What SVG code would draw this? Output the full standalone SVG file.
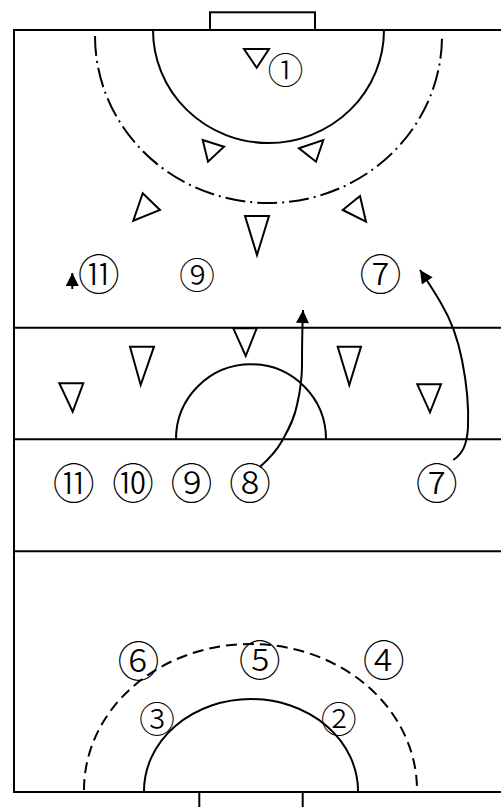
<svg xmlns="http://www.w3.org/2000/svg" width="501" height="807" viewBox="0 0 501 807">
<style>
.ln{fill:none;stroke:#000;stroke-width:2}
.tri{fill:#fff;stroke:#000;stroke-width:2;stroke-linejoin:miter}
.dd{fill:none;stroke:#000;stroke-width:2;stroke-dasharray:20 5 2 5}
.da{fill:none;stroke:#000;stroke-width:2;stroke-dasharray:11 6}
.lb{font-family:"Noto Sans CJK SC","DejaVu Sans",sans-serif;font-size:42px;font-weight:300;text-anchor:middle;dominant-baseline:central;fill:#000}
.sm{font-size:36px}
.arr{fill:none;stroke:#000;stroke-width:2}
</style>
<defs>
<marker id="ah" viewBox="0 0 10 10" refX="10" refY="5" markerWidth="14" markerHeight="13" markerUnits="userSpaceOnUse" orient="auto">
<path d="M0,0 L10,5 L0,10 Z" fill="#000"/>
</marker>
</defs>
<rect width="501" height="807" fill="#fff"/>
<g id="field">
<path class="ln" d="M501,30 H14 V792 H501"/>
<path class="ln" d="M14,327.7 H501 M14,439.3 H501 M14,551.3 H501"/>
<rect class="ln" x="210" y="12.3" width="105" height="17.7"/>
<path class="ln" d="M199.3,792 V807 M302.7,792 V807"/>
<path class="ln" d="M153,30 A115.5,113 0 0 0 384,30"/>
<path class="dd" d="M95,36 A173.5,167 0 0 0 442,36"/>
<path class="ln" d="M176,439.3 A75,75 0 0 1 326,439.3"/>
<path class="ln" d="M144,791 A107,92 0 0 1 358,791"/>
<path class="da" d="M84,790 A166.5,146 0 0 1 417,790"/>
</g>
<g id="defenders">
<polygon class="tri" points="244,49 269,49 256.7,67.7"/>
<polygon class="tri" points="202.7,140 224,146.7 208,161.7"/>
<polygon class="tri" points="299,148.3 323.3,140 316,161.7"/>
<polygon class="tri" points="142.7,193.3 160,210 133.3,220.7"/>
<polygon class="tri" points="360,196 366,221.7 342.7,210"/>
<polygon class="tri" points="245,216 269,216 257,255"/>
<polygon class="tri" points="233.3,328.3 256.7,328.3 245.7,356"/>
<polygon class="tri" points="130,346.7 154,346.7 140.7,385"/>
<polygon class="tri" points="59.3,383.3 83.3,383.3 72.7,411.7"/>
<polygon class="tri" points="337.7,346.7 361,346.7 349.3,385"/>
<polygon class="tri" points="417.3,384.3 441,384.3 430,412.3"/>
</g>
<g id="labels">
<text class="lb sm" x="285.5" y="67.5">①</text>
<text class="lb" x="98.8" y="271.7">⑪</text>
<text class="lb sm" x="197" y="273">⑨</text>
<text class="lb" x="380.5" y="271.7">⑦</text>
<text class="lb" x="73.8" y="480">⑪</text>
<text class="lb" x="133" y="480">⑩</text>
<text class="lb" x="191.5" y="480">⑨</text>
<text class="lb" x="250" y="480">⑧</text>
<text class="lb" x="436.7" y="480">⑦</text>
<text class="lb" x="138.5" y="658">⑥</text>
<text class="lb" x="259.7" y="657">⑤</text>
<text class="lb" x="383.8" y="657">④</text>
<text class="lb sm" x="157" y="716.5">③</text>
<text class="lb sm" x="338.8" y="716.5">②</text>
</g>
<g id="connectors">
<path class="arr" d="M72.3,289 V273" marker-end="url(#ah)"/>
<path class="arr" d="M260,466.7 C270,458 277,450 282,441 C288,430 294,420 297,405 C300,392 302,380 302,365 C302,350 302,335 303,310" marker-end="url(#ah)"/>
<path class="arr" d="M453.3,460 C462,454 467,446 468,427 C469,405 467,385 462,360 C458,340 451,320 442,305 C436,294 430,285 420,270" marker-end="url(#ah)"/>
</g>
</svg>
